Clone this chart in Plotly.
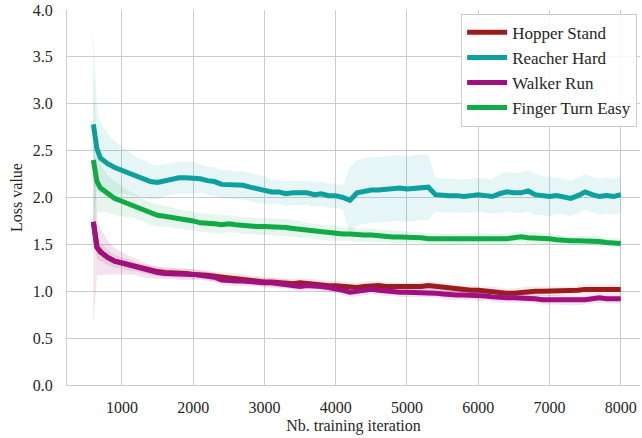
import plotly.graph_objects as go

iters = [600, 650] + list(range(700, 8001, 100))

reacher_mean = [2.78, 2.52, 2.42, 2.36, 2.32, 2.29, 2.26, 2.22, 2.20, 2.17,
                2.16, 2.18, 2.20, 2.21, 2.21, 2.21, 2.20, 2.18, 2.17, 2.14,
                2.14, 2.13, 2.13, 2.11, 2.09, 2.08, 2.06, 2.06, 2.04, 2.05,
                2.05, 2.05, 2.03, 2.04, 2.02, 2.02, 2.00, 1.97, 2.05, 2.07,
                2.08, 2.08, 2.09, 2.10, 2.10, 2.09, 2.10, 2.11, 2.11, 2.03,
                2.02, 2.02, 2.02, 2.01, 2.02, 2.03, 2.02, 2.01, 2.04, 2.06,
                2.05, 2.05, 2.07, 2.03, 2.02, 2.01, 2.02, 2.01, 1.99, 2.02,
                2.06, 2.03, 2.01, 2.02, 2.01, 2.03]
reacher_std = [1.00, 0.45, 0.38, 0.32, 0.28, 0.25, 0.23, 0.21, 0.20, 0.19,
               0.18, 0.17, 0.17, 0.17, 0.17, 0.17, 0.15, 0.15, 0.15, 0.15,
               0.15, 0.15, 0.15, 0.15, 0.15, 0.15, 0.13, 0.13, 0.13, 0.13,
               0.13, 0.13, 0.13, 0.13, 0.13, 0.13, 0.13, 0.35, 0.35, 0.35,
               0.35, 0.35, 0.35, 0.35, 0.35, 0.35, 0.35, 0.35, 0.35, 0.18,
               0.18, 0.18, 0.18, 0.18, 0.18, 0.18, 0.18, 0.18, 0.21, 0.21,
               0.21, 0.22, 0.22, 0.22, 0.21, 0.21, 0.19, 0.19, 0.19, 0.19,
               0.19, 0.19, 0.19, 0.19, 0.19, 0.19]

finger_mean = [2.40, 2.17, 2.10, 2.04, 1.99, 1.96, 1.93, 1.90, 1.86, 1.83,
               1.81, 1.80, 1.79, 1.77, 1.76, 1.75, 1.73, 1.73, 1.72, 1.71,
               1.72, 1.71, 1.70, 1.70, 1.69, 1.69, 1.69, 1.68, 1.68, 1.67,
               1.66, 1.65, 1.64, 1.63, 1.62, 1.62, 1.61, 1.61, 1.60, 1.60,
               1.60, 1.59, 1.59, 1.58, 1.58, 1.58, 1.57, 1.57, 1.56, 1.56,
               1.55, 1.55, 1.55, 1.56, 1.56, 1.56, 1.56, 1.55, 1.55, 1.56,
               1.57, 1.58, 1.57, 1.57, 1.56, 1.56, 1.55, 1.54, 1.54, 1.54,
               1.54, 1.54, 1.53, 1.52, 1.52, 1.51]
finger_std = [0.95, 0.32, 0.25, 0.20, 0.18, 0.16, 0.14, 0.13, 0.12, 0.12,
              0.12, 0.11, 0.11, 0.10, 0.10, 0.10, 0.10, 0.10, 0.10, 0.10,
              0.09, 0.09, 0.09, 0.09, 0.09, 0.09, 0.09, 0.09, 0.09, 0.09,
              0.09, 0.08, 0.08, 0.08, 0.08, 0.08, 0.07, 0.07, 0.07, 0.07,
              0.07, 0.07, 0.07, 0.07, 0.07, 0.06, 0.06, 0.06, 0.06, 0.06,
              0.06, 0.06, 0.06, 0.06, 0.06, 0.06, 0.06, 0.06, 0.06, 0.06,
              0.06, 0.06, 0.06, 0.06, 0.06, 0.06, 0.05, 0.05, 0.05, 0.05,
              0.05, 0.05, 0.05, 0.05, 0.05, 0.05]

hopper_mean = [1.74, 1.47, 1.42, 1.36, 1.32, 1.30, 1.28, 1.26, 1.24, 1.22,
               1.21, 1.20, 1.20, 1.19, 1.19, 1.18, 1.18, 1.17, 1.16, 1.15,
               1.15, 1.14, 1.13, 1.12, 1.11, 1.10, 1.10, 1.09, 1.09, 1.08,
               1.09, 1.08, 1.08, 1.07, 1.06, 1.06, 1.05, 1.04, 1.04, 1.05,
               1.06, 1.06, 1.05, 1.05, 1.04, 1.04, 1.04, 1.05, 1.06, 1.05,
               1.04, 1.03, 1.02, 1.01, 1.01, 1.01, 1.00, 1.00, 0.99, 0.98,
               0.98, 0.99, 1.00, 1.00, 1.00, 1.00, 1.00, 1.00, 1.00, 1.01,
               1.02, 1.02, 1.02, 1.02, 1.02, 1.02]
hopper_std = [0.15, 0.12, 0.10, 0.08, 0.07, 0.06, 0.06, 0.05, 0.05, 0.05,
              0.05, 0.05, 0.05, 0.05, 0.05, 0.05, 0.05, 0.05, 0.05, 0.05,
              0.05, 0.05, 0.05, 0.05, 0.05, 0.05, 0.05, 0.05, 0.05, 0.05,
              0.05, 0.05, 0.05, 0.05, 0.05, 0.05, 0.05, 0.05, 0.05, 0.05,
              0.05, 0.05, 0.05, 0.05, 0.05, 0.05, 0.05, 0.05, 0.05, 0.05,
              0.05, 0.05, 0.05, 0.05, 0.05, 0.05, 0.05, 0.05, 0.05, 0.05,
              0.05, 0.05, 0.05, 0.05, 0.05, 0.05, 0.05, 0.05, 0.05, 0.05,
              0.05, 0.05, 0.05, 0.05, 0.05, 0.05]

walker_mean = [1.74, 1.47, 1.42, 1.36, 1.32, 1.30, 1.28, 1.26, 1.23, 1.21,
               1.20, 1.19, 1.19, 1.18, 1.18, 1.18, 1.17, 1.16, 1.15, 1.12,
               1.11, 1.11, 1.11, 1.10, 1.10, 1.09, 1.09, 1.08, 1.08, 1.06,
               1.05, 1.06, 1.06, 1.05, 1.04, 1.03, 1.01, 0.99, 1.00, 1.01,
               1.02, 1.01, 1.00, 1.00, 0.99, 0.99, 0.99, 0.99, 0.99, 0.98,
               0.97, 0.96, 0.96, 0.96, 0.96, 0.95, 0.95, 0.94, 0.93, 0.93,
               0.93, 0.93, 0.93, 0.92, 0.91, 0.91, 0.91, 0.90, 0.90, 0.90,
               0.91, 0.92, 0.93, 0.92, 0.92, 0.92]
walker_std = [1.10, 0.30, 0.25, 0.18, 0.14, 0.12, 0.10, 0.09, 0.08, 0.07,
              0.07, 0.06, 0.06, 0.06, 0.06, 0.06, 0.05, 0.05, 0.05, 0.05,
              0.05, 0.05, 0.05, 0.05, 0.05, 0.05, 0.05, 0.05, 0.05, 0.05,
              0.05, 0.05, 0.05, 0.05, 0.05, 0.05, 0.05, 0.05, 0.05, 0.05,
              0.05, 0.05, 0.05, 0.05, 0.05, 0.05, 0.05, 0.05, 0.05, 0.05,
              0.05, 0.05, 0.05, 0.05, 0.05, 0.05, 0.05, 0.05, 0.05, 0.05,
              0.05, 0.05, 0.05, 0.05, 0.05, 0.05, 0.05, 0.05, 0.05, 0.05,
              0.05, 0.05, 0.05, 0.05, 0.05, 0.05]

series_names = ["Hopper Stand", "Reacher Hard", "Walker Run", "Finger Turn Easy"]
series_means = [hopper_mean, reacher_mean, walker_mean, finger_mean]
series_stds = [hopper_std, reacher_std, walker_std, finger_std]
series_colors = ["#9c1c1e", "#0e9f9f", "#a0107f", "#10aa46"]
band_colors = ["rgba(156,28,30,0.10)", "rgba(14,159,159,0.10)",
               "rgba(160,16,127,0.12)", "rgba(16,170,70,0.10)"]

serif = "Liberation Serif"

fig = go.Figure()
for name, m, s, c, bc in zip(series_names, series_means, series_stds,
                             series_colors, band_colors):
    upper = [a + b for a, b in zip(m, s)]
    lower = [a - b for a, b in zip(m, s)]
    fig.add_trace(go.Scatter(
        x=iters + iters[::-1], y=upper + lower[::-1],
        fill="toself", fillcolor=bc, line=dict(width=0),
        mode="lines", showlegend=False, hoverinfo="skip"))
    fig.add_trace(go.Scatter(
        x=iters, y=m, mode="lines", name=name,
        legendgroup=name,
        line=dict(color=c, width=5)))

fig.update_layout(
    width=642, height=438,
    margin=dict(l=67, r=2, t=10, b=53),
    paper_bgcolor="white", plot_bgcolor="white",
    font=dict(family=serif, size=16, color="#262626"),
    showlegend=True,
)
fig.update_layout(legend=dict(
    x=0.995, y=0.99, xanchor="right", yanchor="top",
    bgcolor="rgba(255,255,255,0.85)", bordercolor="#cccccc", borderwidth=1,
    font=dict(family=serif, size=17, color="#262626"),
    tracegroupgap=0, itemwidth=40,
))
fig.update_xaxes(
    range=[230, 8270], tickvals=[1000, 2000, 3000, 4000, 5000, 6000, 7000, 8000],
    showgrid=True, gridcolor="#cccccc", gridwidth=1.2,
    showline=True, linecolor="#cccccc", linewidth=1.2,
    zeroline=False, ticks="", ticklabelstandoff=8,
    tickfont=dict(family=serif, size=16, color="#262626"),
    title=dict(text="Nb. training iteration", standoff=4,
               font=dict(family=serif, size=16, color="#262626")),
)
fig.update_yaxes(
    range=[0, 4.0], tickvals=[0, 0.5, 1.0, 1.5, 2.0, 2.5, 3.0, 3.5, 4.0],
    ticktext=["0.0", "0.5", "1.0", "1.5", "2.0", "2.5", "3.0", "3.5", "4.0"],
    showgrid=True, gridcolor="#cccccc", gridwidth=1.2,
    showline=True, linecolor="#cccccc", linewidth=1.2,
    zeroline=False, ticks="", ticklabelstandoff=10,
    tickfont=dict(family=serif, size=16, color="#262626"),
    title=dict(text="Loss value", standoff=6,
               font=dict(family=serif, size=16, color="#262626")),
)

fig.write_html("out.html")
